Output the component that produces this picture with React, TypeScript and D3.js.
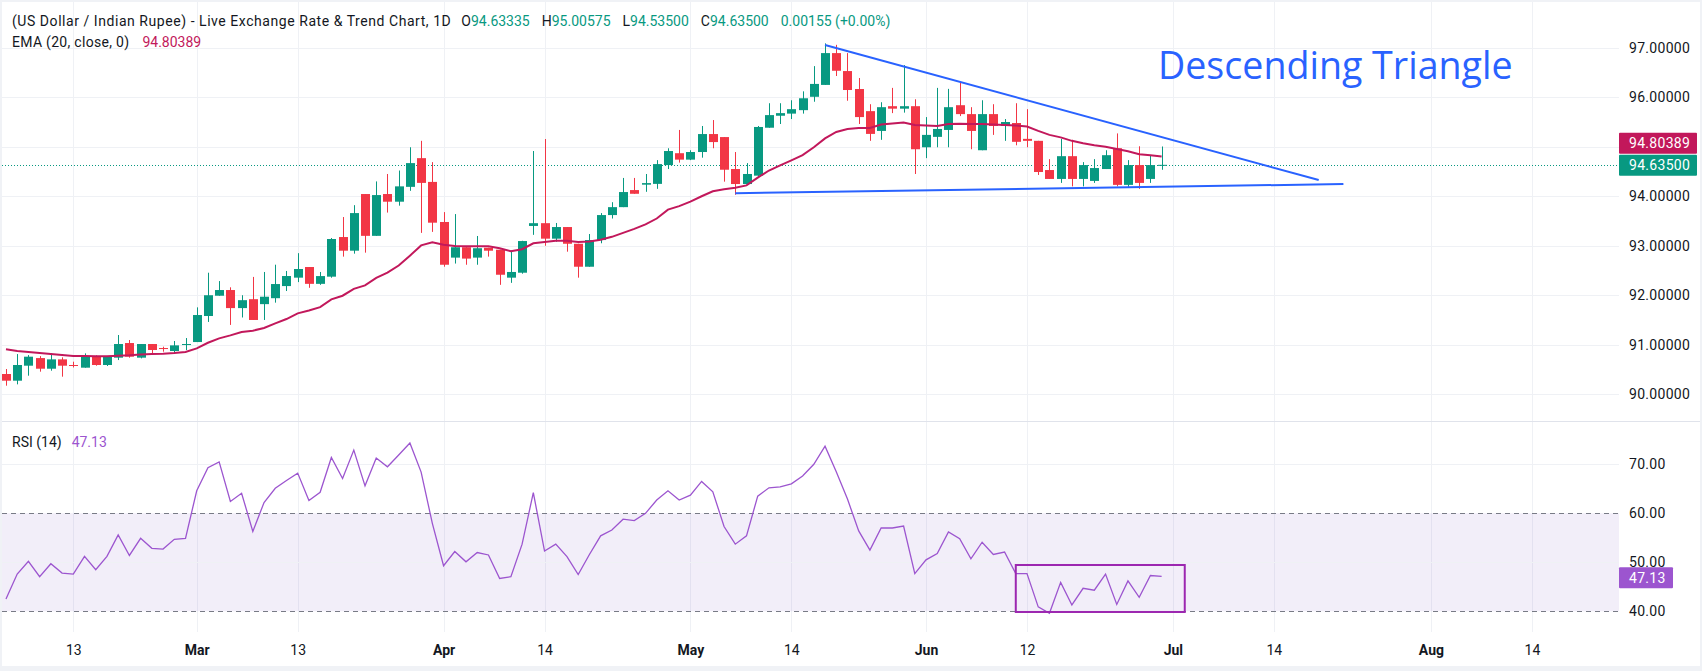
import React from "react";
import * as d3 from "d3";

// ---------- DATA ----------
const opens = [90.408,90.273,90.576,90.73,90.515,90.704,90.59,90.536,90.772,90.59,90.738,91.034,90.738,91.014,90.933,90.873,91.0,91.054,91.58,91.99,92.105,91.74,91.92,91.82,91.94,92.185,92.355,92.57,92.23,92.375,93.176,92.9,94.045,93.2,94.045,93.89,94.19,94.77,94.29,93.48,92.76,92.97,92.76,92.96,92.92,92.355,92.455,93.4,93.456,93.143,93.378,93.04,92.576,93.115,93.62,93.78,94.125,94.234,94.25,94.63,94.87,94.74,94.894,95.257,95.196,94.55,94.247,94.416,95.385,95.627,95.67,95.74,96.01,96.25,96.893,96.53,96.167,95.72,95.32,95.82,95.77,95.82,94.99,95.2,95.34,95.84,95.66,94.93,95.66,95.42,95.48,95.16,95.12,94.53,94.35,94.81,94.35,94.31,94.55,94.97,94.23,94.63,94.35,94.63335];
const highs = [90.509,90.811,90.79,90.77,90.825,90.745,90.657,90.825,90.785,90.77,91.196,91.095,91.014,91.014,90.96,91.075,91.135,91.755,92.455,92.286,92.16,92.0,92.37,92.47,92.617,92.49,92.85,92.57,92.47,93.156,93.58,93.82,94.045,94.3,94.45,94.52,94.99,95.12,94.69,93.68,93.64,92.97,93.197,92.96,92.92,92.9,93.1,94.914,95.157,93.46,93.378,93.04,93.237,93.66,93.88,94.37,94.37,94.45,94.73,94.97,95.34,94.93,95.42,95.54,95.196,94.894,94.67,95.42,95.88,95.88,95.94,96.12,96.63,97.09,97.06,96.893,96.39,95.86,95.9,96.19,96.65,95.96,95.6,96.19,96.17,96.31,95.8,95.94,95.86,95.56,95.88,95.76,95.12,94.75,95.16,95.14,94.69,94.75,94.93,95.27,94.73,95.01,94.83,95.00575];
const lows = [90.172,90.199,90.374,90.455,90.475,90.354,90.54,90.536,90.576,90.57,90.69,90.738,90.724,90.812,90.859,90.812,90.893,91.054,91.46,91.99,91.4,91.55,91.5,91.5,91.85,92.085,92.265,92.15,92.21,92.354,92.78,92.84,92.86,93.2,93.67,93.81,94.11,93.26,93.28,92.576,92.64,92.616,92.616,92.78,92.21,92.25,92.435,93.22,93.0,93.08,92.88,92.355,92.576,93.05,93.55,93.78,94.05,94.09,94.15,94.55,94.68,94.73,94.78,94.97,94.295,94.03,94.226,94.41,95.385,95.46,95.56,95.67,95.91,96.25,96.43,95.93,95.46,95.12,95.14,95.68,95.69,94.45,94.77,94.99,94.99,95.62,94.95,94.93,95.24,95.12,95.03,94.99,94.43,94.35,94.27,94.2,94.2,94.27,94.55,94.2,94.19,94.15,94.27,94.535];
const closes = [90.273,90.59,90.758,90.515,90.704,90.576,90.575,90.772,90.59,90.752,91.014,90.758,91.014,90.893,90.913,90.987,91.014,91.6,92.0,92.105,91.74,91.9,91.5,91.97,92.226,92.388,92.53,92.23,92.387,93.136,92.9,93.66,93.2,94.024,93.89,94.2,94.67,94.27,93.466,92.616,92.97,92.74,92.95,92.9,92.414,92.47,93.095,93.456,93.143,93.378,93.04,92.576,93.115,93.62,93.78,94.085,94.05,94.266,94.65,94.914,94.74,94.894,95.257,95.095,94.536,94.247,94.45,95.4,95.64,95.68,95.76,95.98,96.27,96.893,96.536,96.147,95.6,95.26,95.8,95.77,95.82,94.95,95.24,95.36,95.8,95.66,95.32,95.66,95.42,95.5,95.1,95.12,94.49,94.35,94.81,94.35,94.63,94.57,94.83,94.23,94.63,94.27,94.63,94.635];
const ema20 = [90.907,90.874,90.853,90.833,90.812,90.792,90.772,90.772,90.765,90.765,90.779,90.785,90.8,90.812,90.819,90.833,90.853,90.927,91.04,91.129,91.189,91.257,91.284,91.337,91.431,91.519,91.633,91.69,91.76,91.916,91.99,92.13,92.2,92.35,92.455,92.6,92.8,93.007,93.068,93.02,92.995,92.988,92.988,92.988,92.95,92.89,92.93,93.05,93.075,93.1,93.1,93.075,93.088,93.12,93.18,93.26,93.34,93.43,93.55,93.73,93.8,93.89,94.0,94.1,94.14,94.17,94.22,94.375,94.52,94.625,94.725,94.83,94.99,95.17,95.3,95.36,95.38,95.38,95.45,95.47,95.49,95.44,95.43,95.42,95.46,95.465,95.46,95.46,95.45,95.44,95.43,95.41,95.32,95.24,95.19,95.12,95.07,95.03,95.0,94.955,94.91,94.85,94.83,94.80389];
const rsi14 = [42.5,47.6,50.2,47.07,49.7,47.8,47.6,51.2,48.5,51.2,55.6,51.4,54.9,52.86,52.7,54.7,54.9,64.6,69.3,70.5,62.4,64.1,56.3,62.2,65.1,66.7,68.2,62.6,64.3,71.4,67.1,72.9,65.6,71.3,69.5,71.9,74.35,68.4,57.95,49.3,52.2,50.1,52.0,51.5,46.7,47.07,53.7,64.2,52.3,53.7,51.15,47.5,51.6,55.4,56.6,58.8,58.5,60.0,62.7,64.6,62.7,63.7,66.5,64.4,57.3,53.7,55.4,63.5,65.2,65.4,66.0,67.6,70.0,73.7,68.5,62.9,56.4,52.5,57.0,57.0,57.4,47.7,50.5,51.8,56.2,54.8,50.7,54.1,51.6,52.1,47.7,47.7,40.9,39.6,45.9,41.3,44.7,44.3,47.6,41.4,46.2,42.85,47.3,47.13];

const timeTickIdx = [6, 17, 26, 39, 48, 61, 70, 82, 91, 104, 113, 127, 136];
const timeTickLabels = ["13", "Mar", "13", "Apr", "14", "May", "14", "Jun", "12", "Jul", "14", "Aug", "14"];
const timeTickBold = [false, true, false, true, false, true, false, true, false, true, false, true, false];
const priceTicks = [90, 91, 92, 93, 94, 96, 97];
const priceGrid = [90, 91, 92, 93, 94, 95, 96, 97];
const rsiTicks = [70, 60, 50, 40];
const rsiGrid = [70, 50];
const rsiBand = [40, 60];

// trend lines: [startIndex, startPrice, endIndex, endPrice]
const upperLine = [73, 97.056, 117, 94.328];
const lowerLine = [65, 94.061, 119.2, 94.247];
// RSI box: [i0, rsiLow, i1, rsiHigh]
const rsiBox = [90, 39.86, 105.06, 49.45];

const lastClose = 94.635;
const lastEma = 94.80389;
const lastRsi = 47.13;

// ---------- STYLE ----------
const GREEN = "#089981";
const RED = "#F23645";
const EMA_C = "#C2185B";
const RSI_C = "#9C55CF";
const BLUE = "#2962FF";
const TXT = "#131722";
const GRID = "#EFF1F5";
const FONT = "Roboto, 'Noto Sans', sans-serif";

export default function App() {
  const W = 1702, H = 671;
  const plotR = 1619;
  const x = d3.scaleLinear().domain([0, 103]).range([5.98, 5.98 + 11.22 * 103]);
  const yP = d3.scaleLinear().domain([90, 97]).range([394.2, 47.8]);
  const yR = d3.scaleLinear().domain([40, 70]).range([611.3, 464.3]);
  const bodyW = 9;

  const idx = d3.range(closes.length);
  const emaPath = d3.line<number>().x((i) => x(i)).y((i) => yP(ema20[i]))(idx) || "";
  const rsiPath = d3.line<number>().x((i) => x(i)).y((i) => yR(rsi14[i]))(idx) || "";

  const yClose = yP(lastClose) + 0.5;
  const boxH = 21;
  const greenTop = yClose - boxH / 2;
  const redTop = greenTop - boxH - 1;
  const rsiY = yR(lastRsi) + 1.5;

  return (
    <svg width={W} height={H} style={{ position: "absolute", left: 0, top: 0, display: "block" }} fontFamily={FONT}>
      <rect x={0} y={0} width={W} height={H} fill="#F0F2F6" />
      <rect x={2} y={2} width={1698} height={664} fill="#FFFFFF" />

      {/* vertical grid */}
      {timeTickIdx.map((t, k) => (
        <line key={"vg" + k} x1={Math.round(x(t)) + 0.5} x2={Math.round(x(t)) + 0.5} y1={2} y2={632} stroke={GRID} strokeWidth={1} />
      ))}
      {/* price grid */}
      {priceGrid.map((p) => (
        <line key={"pg" + p} x1={2} x2={plotR} y1={Math.round(yP(p)) + 0.5} y2={Math.round(yP(p)) + 0.5} stroke={GRID} />
      ))}
      {/* pane separator */}
      <line x1={2} x2={1700} y1={421.5} y2={421.5} stroke="#E0E3EB" strokeWidth={1} />

      {/* RSI band and grid */}
      <rect x={2} y={yR(rsiBand[1])} width={plotR - 2} height={yR(rsiBand[0]) - yR(rsiBand[1])} fill="rgba(126,87,194,0.1)" />
      {rsiGrid.map((v) => (
        <line key={"rg" + v} x1={2} x2={plotR} y1={Math.round(yR(v)) + 0.5} y2={Math.round(yR(v)) + 0.5} stroke={GRID} />
      ))}
      {rsiBand.map((v) => (
        <line key={"rb" + v} x1={2} x2={plotR} y1={Math.round(yR(v)) + 0.5} y2={Math.round(yR(v)) + 0.5} stroke="#787B86" strokeDasharray="5 4" />
      ))}

      {/* current price dotted line */}
      <line x1={2} x2={plotR} y1={Math.round(yP(lastClose)) + 0.5} y2={Math.round(yP(lastClose)) + 0.5} stroke={GREEN} strokeDasharray="1 2" />

      {/* candles */}
      {idx.map((i) => {
        const up = closes[i] >= opens[i];
        const c = up ? GREEN : RED;
        const cx = Math.round(x(i));
        const top = yP(Math.max(opens[i], closes[i]));
        const bot = yP(Math.min(opens[i], closes[i]));
        return (
          <g key={"c" + i}>
            <line x1={cx + 0.5} x2={cx + 0.5} y1={yP(highs[i])} y2={yP(lows[i])} stroke={c} strokeWidth={1} />
            <rect x={cx - 4} y={top} width={bodyW} height={Math.max(1, bot - top)} fill={c} />
          </g>
        );
      })}

      {/* EMA */}
      <path d={emaPath} fill="none" stroke={EMA_C} strokeWidth={2} />

      {/* triangle lines */}
      <line x1={x(upperLine[0])} y1={yP(upperLine[1])} x2={x(upperLine[2])} y2={yP(upperLine[3])} stroke={BLUE} strokeWidth={2} />
      <line x1={x(lowerLine[0])} y1={yP(lowerLine[1])} x2={x(lowerLine[2])} y2={yP(lowerLine[3])} stroke={BLUE} strokeWidth={2} />

      {/* RSI line */}
      <path d={rsiPath} fill="none" stroke={RSI_C} strokeWidth={1.3} />
      <rect x={x(rsiBox[0])} y={yR(rsiBox[3])} width={x(rsiBox[2]) - x(rsiBox[0])} height={yR(rsiBox[1]) - yR(rsiBox[3])} fill="none" stroke="#9C27B0" strokeWidth={2} />

      {/* price axis labels */}
      {priceTicks.map((p) => (
        <text key={"pt" + p} x={1629} y={yP(p)} dominantBaseline="central" fontSize={14} fill={TXT} letterSpacing={0.3}>
          {p.toFixed(5)}
        </text>
      ))}
      {rsiTicks.map((v) => (
        <text key={"rt" + v} x={1629} y={yR(v)} dominantBaseline="central" fontSize={14} fill={TXT} letterSpacing={0.3}>
          {v.toFixed(2)}
        </text>
      ))}

      {/* last value boxes */}
      <rect x={plotR} y={redTop} width={78} height={boxH} fill={EMA_C} rx={1} />
      <text x={1629} y={redTop + boxH / 2} dominantBaseline="central" fontSize={14} fill="#FFFFFF" letterSpacing={0.3}>{lastEma.toFixed(5)}</text>
      <rect x={plotR} y={greenTop} width={78} height={boxH} fill={GREEN} rx={1} />
      <text x={1629} y={greenTop + boxH / 2} dominantBaseline="central" fontSize={14} fill="#FFFFFF" letterSpacing={0.3}>{lastClose.toFixed(5)}</text>
      <rect x={plotR} y={rsiY - boxH / 2} width={54} height={boxH} fill={RSI_C} rx={1} />
      <text x={1629} y={rsiY} dominantBaseline="central" fontSize={14} fill="#FFFFFF" letterSpacing={0.3}>{lastRsi.toFixed(2)}</text>

      {/* time axis labels */}
      {timeTickIdx.map((t, k) => (
        <text key={"tt" + k} x={x(t) + 0.5} y={650} textAnchor="middle" dominantBaseline="central" fontSize={14} fontWeight={timeTickBold[k] ? 700 : 400} fill={TXT}>
          {timeTickLabels[k]}
        </text>
      ))}

      {/* legends */}
      <text x={12} y={21} dominantBaseline="central" fontSize={14} fill={TXT}>
        <tspan letterSpacing={0.55}>(US Dollar / Indian Rupee) - Live Exchange Rate &amp; Trend Chart, 1D</tspan>
        <tspan dx={10}>O</tspan><tspan fill={GREEN}>94.63335</tspan>
        <tspan dx={12}>H</tspan><tspan fill={GREEN}>95.00575</tspan>
        <tspan dx={12}>L</tspan><tspan fill={GREEN}>94.53500</tspan>
        <tspan dx={12}>C</tspan><tspan fill={GREEN}>94.63500</tspan>
        <tspan dx={12} fill={GREEN}>0.00155 (+0.00%)</tspan>
      </text>
      <text x={12} y={41.5} dominantBaseline="central" fontSize={14} fill={TXT}>
        <tspan letterSpacing={0.3}>EMA (20, close, 0)</tspan>
        <tspan dx={13} fill={EMA_C}>{lastEma.toFixed(5)}</tspan>
      </text>
      <text x={12} y={441.7} dominantBaseline="central" fontSize={14} fill={TXT}>
        <tspan>RSI (14)</tspan>
        <tspan dx={10} fill={RSI_C}>{lastRsi.toFixed(2)}</tspan>
      </text>

      <text x={1158} y={79} fontSize={37.6} fill={BLUE} fontFamily="'Open Sans', sans-serif">Descending Triangle</text>
    </svg>
  );
}
